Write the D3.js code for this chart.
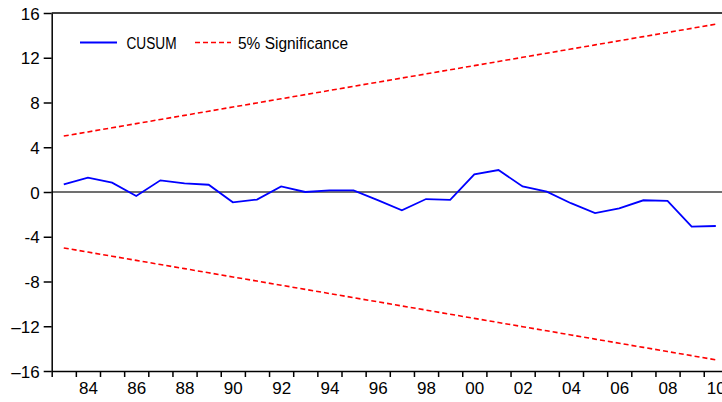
<!DOCTYPE html>
<html>
<head>
<meta charset="utf-8">
<script src="https://cdn.jsdelivr.net/npm/d3@7"></script>
<style>
  body { margin: 0; background: #fff; }
  svg { display: block; }
  .tick text { font-family: "Liberation Sans", Arial, sans-serif; font-size: 17px; fill: #000; }
  .legend text { font-family: "Liberation Sans", Arial, sans-serif; font-size: 16px; fill: #000; }
</style>
</head>
<body>
<script>
// years of the observations (points sit at mid-year)
var years = d3.range(1983, 2011);
var cusum = [0.68, 1.28, 0.83, -0.36, 1.04, 0.77, 0.65, -0.92, -0.68, 0.5,
             0.0, 0.15, 0.15, -0.72, -1.64, -0.63, -0.71, 1.58, 1.96, 0.5,
             0.03, -1.0, -1.88, -1.46, -0.74, -0.8, -3.1, -3.04];
var upperStart = 5, upperEnd = 15;   // 5% significance band
var yTicks = [16, 12, 8, 4, 0, -4, -8, -12, -16];
var yTickLabels = ["16", "12", "8", "4", "0", "-4", "-8", "\u201312", "\u201316"];
var xLabelYears = d3.range(1984, 2011, 2);
var xTickLabels = ["84", "86", "88", "90", "92", "94", "96", "98", "00", "02", "04", "06", "08", "10"];

var width = 722, height = 402;
var mLeft = 51.7, mTop = 13, mBottom = 371;
var pxPerYear = 24.15;

var svg = d3.select("body").append("svg")
    .attr("width", width)
    .attr("height", height);

var x = d3.scaleLinear()
    .domain([1983, 2011])
    .range([mLeft, mLeft + 28 * pxPerYear]);

var y = d3.scaleLinear()
    .domain([-16, 16])
    .range([mBottom, mTop]);

var bandLo = years[0], bandHi = years[years.length - 1];
var upper = years.map(function(yr) {
    return upperStart + (upperEnd - upperStart) * (yr - bandLo) / (bandHi - bandLo);
});

// zero line
svg.append("line")
    .attr("x1", mLeft).attr("x2", width)
    .attr("y1", y(0)).attr("y2", y(0))
    .attr("stroke", "#404040").attr("stroke-width", 1.5);

// top frame line
svg.append("line")
    .attr("x1", mLeft).attr("x2", width)
    .attr("y1", mTop).attr("y2", mTop)
    .attr("stroke", "#000").attr("stroke-width", 1.5);

// x axis: yearly ticks, labels centred on the year
var xAxis = svg.append("g")
    .attr("transform", "translate(0," + mBottom + ")")
    .call(d3.axisBottom(x).tickValues(d3.range(1983, 2012)).tickFormat("").tickSize(6).tickSizeOuter(0));
xAxis.select(".domain").attr("stroke-width", 1.5);
xAxis.selectAll(".tick line").attr("stroke-width", 1.5);

svg.append("g")
    .attr("transform", "translate(0," + mBottom + ")")
    .call(d3.axisBottom(x)
        .tickValues(xLabelYears.map(function(d) { return d + 0.5; }))
        .tickFormat(function(d, i) { return xTickLabels[i]; })
        .tickSize(0).tickPadding(11))
    .call(function(g) { g.select(".domain").remove(); });

// y axis
var yAxis = svg.append("g")
    .attr("transform", "translate(" + mLeft + ",0)")
    .call(d3.axisLeft(y)
        .tickValues(yTicks)
        .tickFormat(function(d, i) { return yTickLabels[i]; })
        .tickSize(8).tickSizeOuter(0).tickPadding(4));
yAxis.select(".domain").attr("stroke-width", 1.5);
yAxis.selectAll(".tick line").attr("stroke-width", 1.5);
yAxis.selectAll(".tick text").attr("dy", "0.36em");

var line = d3.line()
    .x(function(d, i) { return x(years[i] + 0.5); })
    .y(function(d) { return y(d); });

// significance lines
svg.append("path")
    .datum(upper)
    .attr("d", line)
    .attr("fill", "none").attr("stroke", "#ff0000")
    .attr("stroke-width", 1.6).attr("stroke-dasharray", "5,3");
svg.append("path")
    .datum(upper.map(function(v) { return -v; }))
    .attr("d", line)
    .attr("fill", "none").attr("stroke", "#ff0000")
    .attr("stroke-width", 1.6).attr("stroke-dasharray", "5,3");

// CUSUM
svg.append("path")
    .datum(cusum)
    .attr("d", line)
    .attr("fill", "none").attr("stroke", "#0000ff")
    .attr("stroke-width", 1.8);

// legend
var legend = svg.append("g").attr("class", "legend");
legend.append("line")
    .attr("x1", 80).attr("x2", 117).attr("y1", 42.5).attr("y2", 42.5)
    .attr("stroke", "#0000ff").attr("stroke-width", 1.8);
legend.append("text").attr("x", 126.5).attr("y", 48.5)
    .attr("textLength", 50).attr("lengthAdjust", "spacingAndGlyphs").text("CUSUM");
legend.append("line")
    .attr("x1", 195).attr("x2", 231).attr("y1", 42.5).attr("y2", 42.5)
    .attr("stroke", "#ff0000").attr("stroke-width", 1.6).attr("stroke-dasharray", "5,3");
legend.append("text").attr("x", 238).attr("y", 48.5)
    .attr("textLength", 110).attr("lengthAdjust", "spacingAndGlyphs").text("5% Significance");
</script>
</body>
</html>
